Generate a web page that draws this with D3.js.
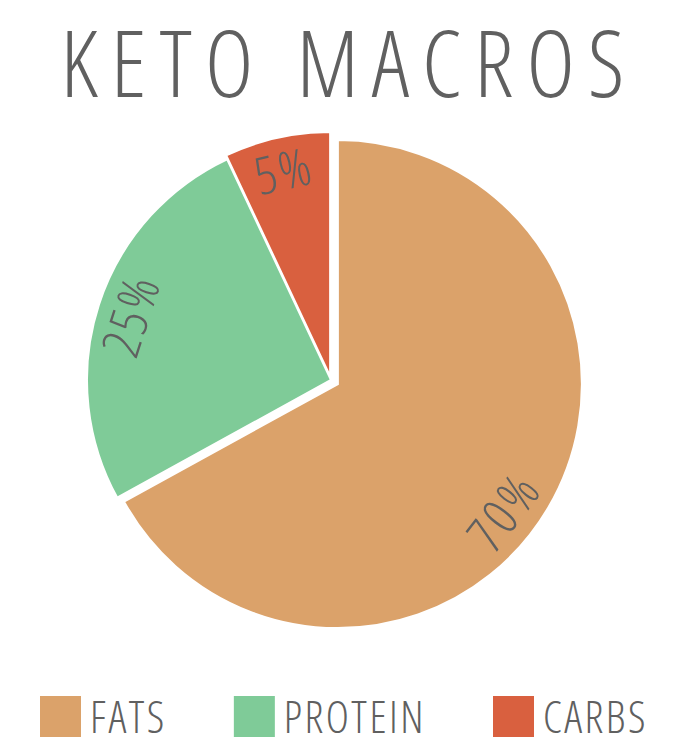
<!DOCTYPE html>
<html>
<head>
<meta charset="utf-8">
<script src="https://cdn.jsdelivr.net/npm/d3@7"></script>
<style>
  body { margin: 0; background: #fff; }
  text { font-family: "Open Sans", sans-serif; font-weight: 300; font-stretch: 85%; fill: #606060; }
</style>
</head>
<body>
<div class="chart"></div>
<script>
var svgWidth = 680;
var svgHeight = 756;

// chart data
var macros = ["FATS", "PROTEIN", "CARBS"];
var shares = [67, 26, 7];          // slice sizes as drawn
var percentLabels = ["70%", "25%", "5%"];
var colors = ["#dba26a", "#7fcb98", "#d9603f"];

var cx = 331, cy = 380, radius = 244;
// how far each slice is pulled out from the centre
var pull = { FATS: 8, PROTEIN: 0, CARBS: 4 };

var svg = d3
  .select(".chart")
  .append("svg")
  .attr("width", svgWidth)
  .attr("height", svgHeight);

// Title
svg.append("text")
  .attr("x", 349)
  .attr("y", 97)
  .attr("text-anchor", "middle")
  .style("font-size", "92px")
  .style("letter-spacing", "13px")
  .text("KETO MACROS");

var pieData = d3.pie().sort(null)(shares);

var arc = d3.arc().innerRadius(0).outerRadius(radius);

var slices = svg.append("g")
  .attr("transform", "translate(" + cx + "," + cy + ")")
  .selectAll("g")
  .data(pieData)
  .enter()
  .append("g")
  .attr("transform", function(d, i) {
    var mid = (d.startAngle + d.endAngle) / 2;
    var p = pull[macros[i]];
    return "translate(" + (Math.sin(mid) * p) + "," + (-Math.cos(mid) * p) + ")";
  });

slices.append("path")
  .attr("d", arc)
  .attr("fill", function(d, i) { return colors[i]; })
  .attr("stroke", "#fff")
  .attr("stroke-width", 2);

// Labels sit along the arc, rotated to follow it and kept readable
slices.append("text")
  .attr("text-anchor", "middle")
  .attr("dy", "0.35em")
  .style("font-size", "52px")
  .style("letter-spacing", "3px")
  .attr("transform", function(d, i) {
    var mid = (d.startAngle + d.endAngle) / 2;
    if (i === 0) mid += 0.12; // fats label sits a little further round
    var r = radius * 0.86;
    var x = Math.sin(mid) * r;
    var y = -Math.cos(mid) * r;
    var rot = mid * 180 / Math.PI;
    if (rot > 180) rot -= 360;
    if (rot > 90 || rot < -90) rot -= 180;
    return "translate(" + x + "," + y + ") rotate(" + rot + ")";
  })
  .text(function(d, i) { return percentLabels[i]; });

// Legend
var legend = svg.append("g").attr("transform", "translate(40,696)");
var lx = 0;
macros.forEach(function(name, i) {
  var item = legend.append("g").attr("transform", "translate(" + lx + ",0)");
  item.append("rect")
    .attr("width", 41)
    .attr("height", 41)
    .attr("fill", colors[i]);
  var t = item.append("text")
    .attr("x", 50)
    .attr("y", 37)
    .style("font-size", "44px")
    .style("letter-spacing", "2.5px")
    .text(name);
  lx += 50 + t.node().getComputedTextLength() + 67;
});
</script>
</body>
</html>
